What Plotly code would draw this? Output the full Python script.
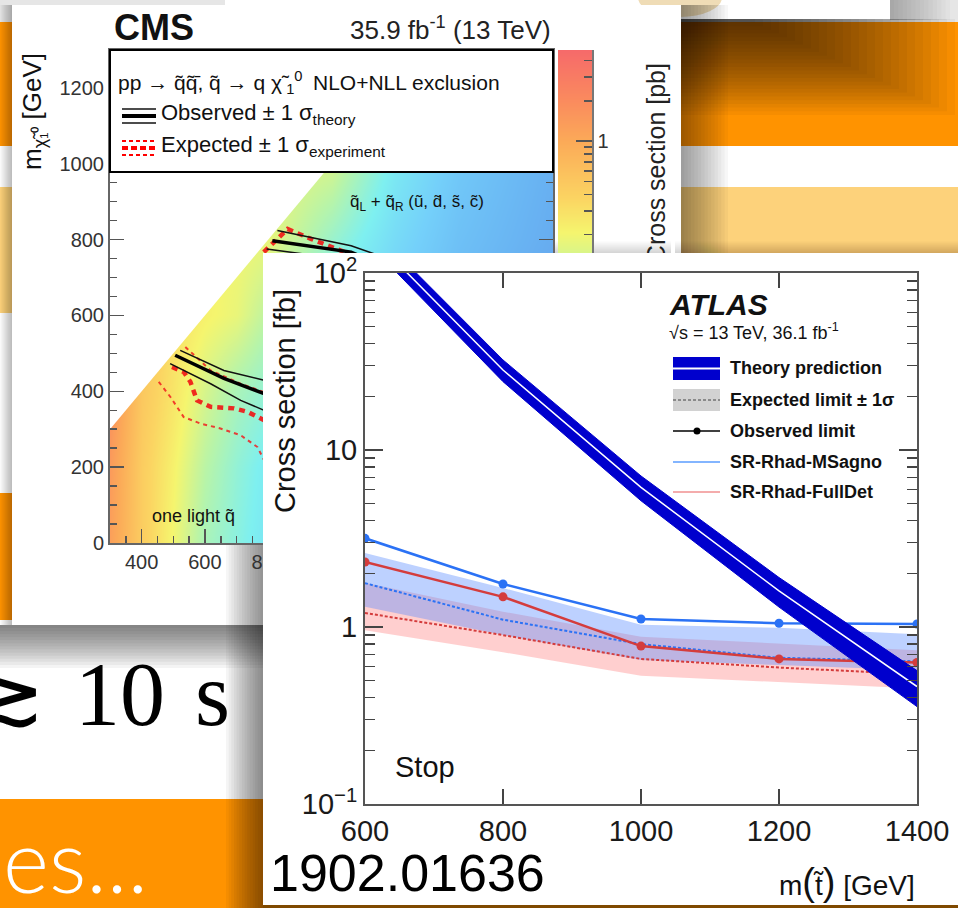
import numpy as np
import plotly.graph_objects as go

W, H = 958, 908
FONT = "Liberation Sans, Arial, Helvetica, sans-serif"
ORANGE = "#FF9300"
LIGHT_ORANGE = "#FDD27B"

# ---------------- ATLAS: stop R-hadron search (cross sections in fb) ----------------
stop_mass = [600, 800, 1000, 1200, 1400]
theory_xsec = [174.6, 28.3, 6.15, 1.60, 0.461]
theory_rel_unc = [0.12, 0.14, 0.16, 0.19, 0.23]
msagno_obs = [3.17, 1.75, 1.11, 1.05, 1.04]
msagno_exp = [1.77, 1.10, 0.80, 0.67, 0.64]
msagno_exp_lo = [1.30, 0.90, 0.65, 0.61, 0.57]
msagno_exp_hi = [2.62, 1.66, 1.03, 0.99, 0.91]
fulldet_obs = [2.33, 1.48, 0.78, 0.66, 0.63]
fulldet_exp = [1.20, 0.90, 0.66, 0.59, 0.54]
fulldet_exp_lo = [0.96, 0.72, 0.53, 0.49, 0.45]
fulldet_exp_hi = [1.78, 1.22, 0.88, 0.81, 0.74]
atlas_xticks = [600, 800, 1000, 1200, 1400]
atlas_yticks = [0.1, 1, 10, 100]
atlas_yticktext = ["10<sup>\u22121</sup>", "1", "10", "10<sup>2</sup>"]

# ---------------- CMS: squark pair production, upper limits (log10 of pb) ----------------
map_msq = [300, 400, 500, 600, 700, 800, 1000, 1200, 1400, 1700]
map_mlsp = [0, 200, 400, 600, 800, 1000, 1200]
map_log_xsec = [
    [0.10, -0.35, -0.70, -1.10, -1.30, -1.50, -1.75, -1.95, -2.15, -2.40],
    [0.15, -0.35, -0.65, -1.00, -1.25, -1.45, -1.70, -1.90, -2.10, -2.35],
    [0.25, -0.30, -0.55, -0.85, -1.10, -1.25, -1.60, -1.85, -2.05, -2.30],
    [0.30, -0.20, -0.50, -0.65, -0.75, -1.00, -1.45, -1.75, -2.00, -2.25],
    [0.30, -0.20, -0.50, -0.65, -0.70, -0.75, -1.20, -1.60, -1.90, -2.15],
    [0.30, -0.20, -0.50, -0.65, -0.70, -0.75, -0.85, -1.45, -1.80, -2.10],
    [0.30, -0.20, -0.50, -0.65, -0.70, -0.75, -0.85, -1.30, -1.70, -2.05],
]
kin_edge = [300, 1700]          # m_LSP = m_squark
cbar_range = [-3.0, 0.68]        # log10(sigma / pb)

# one light squark
light_obs = ([506, 586, 660, 787, 880, 960, 985], [495, 464, 434, 394, 330, 150, 0])
light_obs_up = ([522, 660, 787, 900, 990, 1010], [508, 455, 429, 370, 160, 0])
light_obs_dn = ([490, 618, 713, 787, 860, 930, 950], [473, 420, 376, 350, 290, 140, 0])
light_exp = ([496, 533, 554, 575, 618, 692, 734, 787, 870, 930, 945],
             [464, 451, 425, 376, 359, 355, 346, 324, 260, 120, 0])
light_exp_up = ([538, 618, 713, 787, 900, 1000, 1020], [517, 455, 420, 398, 330, 150, 0])
light_exp_dn = ([454, 491, 533, 586, 649, 713, 766, 787, 830, 850],
                [425, 385, 332, 315, 302, 284, 253, 218, 130, 0])
# eightfold degenerate squarks
deg_obs = ([813, 1062, 1250, 1450, 1540, 1560], [797, 767, 700, 550, 300, 0])
deg_obs_up = ([829, 1062, 1280, 1490, 1580, 1600], [824, 784, 720, 560, 300, 0])
deg_obs_dn = ([795, 1040, 1230, 1420, 1510, 1530], [775, 748, 680, 540, 300, 0])
deg_exp = ([786, 861, 935, 1030, 1250, 1450, 1530, 1550], [767, 828, 802, 771, 690, 540, 300, 0])

cms_colorscale = [
    [0.00, "#5c6fd6"], [0.14, "#6190e6"], [0.25, "#68b2f2"], [0.35, "#74d0fa"],
    [0.44, "#7ef0f0"], [0.54, "#b8f4a8"], [0.63, "#f5f56e"], [0.70, "#fbd462"],
    [0.815, "#fbaa58"], [0.90, "#fa8a5e"], [1.00, "#f66a6a"],
]

# --------------------------------------------------------------------------------
fig = go.Figure()


def blank(ax):
    fig.add_trace(go.Scatter(x=[], y=[], xaxis="x" + ax, yaxis="y" + ax,
                             showlegend=False, hoverinfo="skip"))


# page, CMS panel, colorbar title holder, ATLAS panel: layout-only subplots
for ax in ["", "2", "5", "6"]:
    blank(ax)

# ---- CMS limit map ----
fig.add_trace(go.Heatmap(x=map_msq, y=map_mlsp, z=map_log_xsec, zsmooth="best",
                         colorscale=cms_colorscale, zmin=cbar_range[0], zmax=cbar_range[1],
                         showscale=False, xaxis="x3", yaxis="y3", hoverinfo="skip"))
fig.add_trace(go.Scatter(x=[kin_edge[0], kin_edge[1], kin_edge[0]],
                         y=[kin_edge[0], kin_edge[1], kin_edge[1]],
                         fill="toself", fillcolor="white", mode="lines", line=dict(width=0),
                         xaxis="x3", yaxis="y3", showlegend=False, hoverinfo="skip"))


def contour(c, color, width, dash="solid"):
    fig.add_trace(go.Scatter(x=c[0], y=c[1], mode="lines",
                             line=dict(color=color, width=width, dash=dash),
                             xaxis="x3", yaxis="y3", showlegend=False, hoverinfo="skip"))


for c in (light_exp_up, light_exp_dn):
    contour(c, "rgba(240,30,30,0.85)", 2, "4px,4px")
contour(light_exp, "rgba(240,20,20,0.9)", 4.5, "6px,5px")
contour(deg_exp, "rgba(240,20,20,0.9)", 4.5, "6px,5px")
for c in (light_obs_up, light_obs_dn, deg_obs_up, deg_obs_dn):
    contour(c, "#111111", 1.5)
contour(light_obs, "#000000", 3.5)
contour(deg_obs, "#000000", 3.5)

# ---- CMS colour scale bar ----
fig.add_trace(go.Heatmap(x=[0], y=cbar_range, z=[[v] for v in cbar_range], zsmooth="best",
                         colorscale=cms_colorscale, zmin=cbar_range[0], zmax=cbar_range[1],
                         showscale=False, xaxis="x4", yaxis="y4", hoverinfo="skip"))

# ---- ATLAS limits ----
def band(lo, hi, color):
    fig.add_trace(go.Scatter(x=stop_mass + stop_mass[::-1], y=hi + lo[::-1], fill="toself",
                             fillcolor=color, mode="lines", line=dict(width=0),
                             xaxis="x7", yaxis="y7", showlegend=False, hoverinfo="skip"))


band(fulldet_exp_lo, fulldet_exp_hi, "rgba(255,110,110,0.33)")
band(msagno_exp_lo, msagno_exp_hi, "rgba(90,140,255,0.40)")

BLUE, RED = "#2b72f5", "#d43c3c"
for vals, col in ((fulldet_exp, RED), (msagno_exp, BLUE)):
    fig.add_trace(go.Scatter(x=stop_mass, y=vals, mode="lines",
                             line=dict(color=col, width=2, dash="3px,2px"),
                             xaxis="x7", yaxis="y7", showlegend=False, hoverinfo="skip"))
for vals, col in ((fulldet_obs, RED), (msagno_obs, BLUE)):
    fig.add_trace(go.Scatter(x=stop_mass, y=vals, mode="lines+markers",
                             line=dict(color=col, width=2.5), marker=dict(color=col, size=9),
                             xaxis="x7", yaxis="y7", showlegend=False, hoverinfo="skip"))

theory_hi = [s * (1 + u) for s, u in zip(theory_xsec, theory_rel_unc)]
theory_lo = [s * (1 - u) for s, u in zip(theory_xsec, theory_rel_unc)]
fig.add_trace(go.Scatter(x=stop_mass + stop_mass[::-1], y=theory_hi + theory_lo[::-1],
                         fill="toself", fillcolor="#0000cd", mode="lines",
                         line=dict(color="#0000cd", width=1),
                         xaxis="x7", yaxis="y7", showlegend=False, hoverinfo="skip"))
fig.add_trace(go.Scatter(x=stop_mass, y=theory_xsec, mode="lines",
                         line=dict(color="white", width=1.5),
                         xaxis="x7", yaxis="y7", showlegend=False, hoverinfo="skip"))

# --------------------------------------------------------------------------------
# axes
def px_axes(n, x0, x1, y0, y1):
    """Hidden axes whose data units are page pixels."""
    s = "" if n == 1 else str(n)
    return {
        "xaxis" + s: dict(domain=[x0 / W, x1 / W], range=[x0, x1], visible=False,
                          anchor="y" + s, fixedrange=True),
        "yaxis" + s: dict(domain=[1 - y1 / H, 1 - y0 / H], range=[y1, y0], visible=False,
                          anchor="x" + s, fixedrange=True),
    }


axes = {}
axes.update(px_axes(1, 0, W, 0, H))
axes.update(px_axes(2, 12, 681, 5, 625))
axes.update(px_axes(6, 263, W, 253, 905))

cms_tick = dict(size=20, color="#333", family=FONT)
axes["xaxis3"] = dict(domain=[110 / W, 553 / W], range=[300, 1700], anchor="y3",
                      tick0=0, dtick=200, ticks="inside", ticklen=14, tickwidth=1.5,
                      tickcolor="#555", showline=True, linecolor="#666", linewidth=2,
                      mirror="allticks", showgrid=False, zeroline=False, tickfont=cms_tick,
                      minor=dict(tick0=0, dtick=50, ticks="inside", ticklen=7, tickcolor="#555"),
                      fixedrange=True)
axes["yaxis3"] = dict(domain=[1 - 543 / H, 1 - 50 / H], range=[0, 1300], anchor="x3",
                      tick0=0, dtick=200, ticks="inside", ticklen=14, tickwidth=1.5,
                      tickcolor="#555", showline=True, linecolor="#666", linewidth=2,
                      mirror="allticks", showgrid=False, zeroline=False, tickfont=cms_tick,
                      minor=dict(tick0=0, dtick=50, ticks="inside", ticklen=7, tickcolor="#555"),
                      fixedrange=True)

cbar_minor = [np.log10(k * 10.0 ** e) for e in range(-3, 1) for k in range(2, 10)
              if np.log10(k * 10.0 ** e) < cbar_range[1]]
axes["xaxis4"] = dict(domain=[558 / W, 592 / W], range=[-0.5, 0.5], visible=False,
                      anchor="y4", fixedrange=True)
axes["yaxis4"] = dict(domain=[1 - 543 / H, 1 - 50 / H], range=cbar_range, anchor="x4",
                      side="right", tickmode="array", tickvals=[-3, -2, -1, 0],
                      ticktext=["10<sup>\u22123</sup>", "10<sup>\u22122</sup>",
                                "10<sup>\u22121</sup>", "1"],
                      ticks="inside", ticklen=16, tickwidth=1.5, tickcolor="#555",
                      showline=True, linecolor="#777", linewidth=1.5, showgrid=False,
                      zeroline=False, tickfont=cms_tick,
                      minor=dict(tickmode="array", tickvals=cbar_minor, ticks="inside",
                                 ticklen=8, tickcolor="#555"),
                      fixedrange=True)

# colour-bar title carried as a rotated tick label so the ATLAS panel can overlap it
axes["xaxis5"] = dict(domain=[671 / W, 675 / W], range=[0, 1], visible=False,
                      anchor="y5", fixedrange=True)
axes["yaxis5"] = dict(domain=[1 - 543 / H, 1 - 50 / H], range=[0, 1], anchor="x5",
                      side="left", tickmode="array", tickvals=[0.763],
                      ticktext=["Cross section [pb]"], tickangle=-90, ticks="",
                      showline=False, showgrid=False, zeroline=False,
                      tickfont=dict(size=25, color="#222", family=FONT), fixedrange=True)

atlas_minor = [k * 10.0 ** e for e in (-1, 0, 1) for k in range(2, 10)]
atlas_tick = dict(size=29, color="#1a1a1a", family=FONT)
axes["xaxis7"] = dict(domain=[365 / W, 917 / W], range=[600, 1400], anchor="y7",
                      tickmode="array", tickvals=atlas_xticks, ticks="inside", ticklen=15,
                      tickwidth=1.5, tickcolor="#444", showline=True, linecolor="#555",
                      linewidth=2, mirror="allticks", showgrid=False, zeroline=False,
                      tickfont=atlas_tick, fixedrange=True)
axes["yaxis7"] = dict(domain=[1 - 804 / H, 1 - 273 / H], type="log", range=[-1, 2],
                      anchor="x7", tickmode="array", tickvals=atlas_yticks,
                      ticktext=atlas_yticktext, ticks="inside", ticklen=18, tickwidth=1.5,
                      tickcolor="#444", showline=True, linecolor="#555", linewidth=2,
                      mirror="allticks", showgrid=False, zeroline=False, tickfont=atlas_tick,
                      minor=dict(tickmode="array", tickvals=atlas_minor, ticks="inside",
                                 ticklen=10, tickcolor="#444"),
                      fixedrange=True)

# --------------------------------------------------------------------------------
# slide background and shadows
shapes = []


def rect(x0, y0, x1, y1, fill, xref="x", yref="y", layer="below", line=None):
    d = dict(type="rect", xref=xref, yref=yref, x0=x0, y0=y0, x1=x1, y1=y1,
             fillcolor=fill, layer=layer, line=dict(width=0) if line is None else line)
    shapes.append(d)


def ramp(x0, y0, x1, y1, dark, alpha, xref="x", yref="y", n=14):
    a = alpha / n
    for i in range(n):
        f = (i + 1) / n
        if dark == "left":
            r = (x0, y0, x0 + (x1 - x0) * f, y1)
        elif dark == "right":
            r = (x1 - (x1 - x0) * f, y0, x1, y1)
        elif dark == "top":
            r = (x0, y0, x1, y0 + (y1 - y0) * f)
        else:
            r = (x0, y1 - (y1 - y0) * f, x1, y1)
        rect(*r, f"rgba(0,0,0,{a:.4f})", xref=xref, yref=yref)


rect(0, 0, W, 22, "#e6e6e6")
rect(225, 0, 890, 19, "white")
shapes.append(dict(type="circle", xref="x", yref="y", x0=638, x1=722, y0=-22, y1=17,
                   fillcolor="#efdcb6", line=dict(width=0), layer="below"))
rect(0, 22, W, 146, ORANGE)
rect(0, 187, W, 313, LIGHT_ORANGE)
rect(0, 493, W, 620, ORANGE)
rect(0, 799, W, H, ORANGE)

# soft shadow under the picture at the top: nested boxes anchored at its lower-left
for i in range(26):
    rect(225, 19, 955 - 8 * i, 115 - 3.7 * i, "rgba(0,0,0,0.034)")
ramp(890, 0, 950, 20, "left", 0.3)
ramp(681, 5, 728, 625, "left", 0.45)
ramp(0, 625, 700, 668, "top", 0.6)
ramp(0, 5, 12, 625, "right", 0.25)
ramp(226, 253, 263, H, "right", 0.55)
ramp(263, 241, W, 253, "bottom", 0.18)
rect(263, 905, W, H, "rgba(0,0,0,0.5)")
# ATLAS panel shadow falling on the CMS panel
ramp(226, 253, 263, 625, "right", 0.5, xref="x2", yref="y2")
ramp(553, 241, 681, 253, "bottom", 0.15, xref="x2", yref="y2")

# CMS legend box and keys
rect(110, 50, 553, 172, "white", layer="above", line=dict(color="black", width=2))


def hline(x0, x1, y, color, width, dash="solid"):
    shapes.append(dict(type="line", xref="x", yref="y", x0=x0, x1=x1, y0=y, y1=y,
                       line=dict(color=color, width=width, dash=dash), layer="above"))


hline(122, 156, 109, "#111", 1.5)
hline(122, 156, 116, "black", 4)
hline(122, 156, 123, "#111", 1.5)
hline(122, 156, 141, "red", 1.8, "4px,3px")
hline(122, 156, 148, "red", 4, "6px,3px")
hline(122, 156, 155, "red", 1.8, "4px,3px")

# ATLAS legend keys
rect(673, 357, 720, 380, "#0000cd", layer="above")
hline(673, 720, 368.5, "white", 2)
rect(673, 389, 720, 411, "#d2d2d2", layer="above")
hline(673, 720, 400, "#8a8a8a", 2, "3px,2px")
hline(673, 720, 431, "black", 1.5)
shapes.append(dict(type="circle", xref="x", yref="y", x0=693.5, x1=700.5, y0=427.5, y1=434.5,
                   fillcolor="black", line=dict(width=0), layer="above"))
hline(673, 720, 462, "#5a9cff", 1.5)
hline(673, 720, 492, "#f09090", 1.5)

# --------------------------------------------------------------------------------
ann = []


def txt(x, y, text, size, xanchor="left", color="#111", family=FONT, angle=0, weight=None,
        yanchor="middle"):
    f = dict(size=size, color=color, family=family)
    if weight:
        f["weight"] = weight
    ann.append(dict(x=x, y=y, xref="x", yref="y", text=text, showarrow=False,
                    xanchor=xanchor, yanchor=yanchor, font=f, textangle=angle))


sq = "q\u0303"
chi = "\u03c7\u0303\u2009"
# CMS
txt(112, 27, "<b>CMS</b>", 36)
txt(553, 28, "35.9 fb<sup>-1</sup> (13 TeV)", 26, xanchor="right", color="#222")
txt(116, 82, f"pp \u2192 {sq}{sq}\u0304, {sq} \u2192 q {chi}<sub>1</sub><sup>0</sup>"
             "\u2002NLO+NLL exclusion", 21)
txt(159, 114, "Observed \u00b1 1 \u03c3<sub>theory</sub>", 22)
txt(159, 146, "Expected \u00b1 1 \u03c3<sub>experiment</sub>", 22)
txt(348, 203, f"{sq}<sub>L</sub> + {sq}<sub>R</sub> (u\u0303, d\u0303, s\u0303, c\u0303)", 17)
txt(150, 516, f"one light {sq}", 18)
txt(33, 112, "m<sub>\u03c7\u0303\u2081\u2070</sub> [GeV]", 26, xanchor="center", angle=-90)

# ATLAS
txt(667, 304, "<b><i>ATLAS</i></b>", 30)
txt(667, 331, "\u221as = 13 TeV, 36.1 fb<sup>-1</sup>", 18)
for y, label in ((368, "Theory prediction"), (400, "Expected limit \u00b1 1\u03c3"),
                 (431, "Observed limit"), (462, "SR-Rhad-MSagno"), (492, "SR-Rhad-FullDet")):
    txt(728, y, label, 18, weight="bold")
txt(393, 767, "Stop", 29)
txt(285, 401, "Cross section [fb]", 29, xanchor="center", angle=-90)
txt(917, 882, "m<span style='font-size:38px'>(</span>t\u0303"
              "<span style='font-size:38px'>)</span> [GeV]", 28, xanchor="right")
txt(268, 873, "1902.01636", 52, color="black")

# slide text
txt(232, 694, "\u2273\u200a 10\u200a s", 90, xanchor="right", color="black",
    family="Liberation Serif, DejaVu Serif, serif")
txt(1, 859, "es...", 88, color="white", family="Lato, Open Sans, sans-serif", weight=300)

fig.update_layout(
    width=W, height=H, autosize=False,
    margin=dict(l=0, r=0, t=0, b=0, pad=0, autoexpand=False),
    paper_bgcolor="white", plot_bgcolor="white",
    showlegend=False, hovermode=False,
    shapes=shapes, annotations=ann,
    font=dict(family=FONT),
    **axes,
)

fig.write_html("out.html", config={"displayModeBar": False, "staticPlot": True})
